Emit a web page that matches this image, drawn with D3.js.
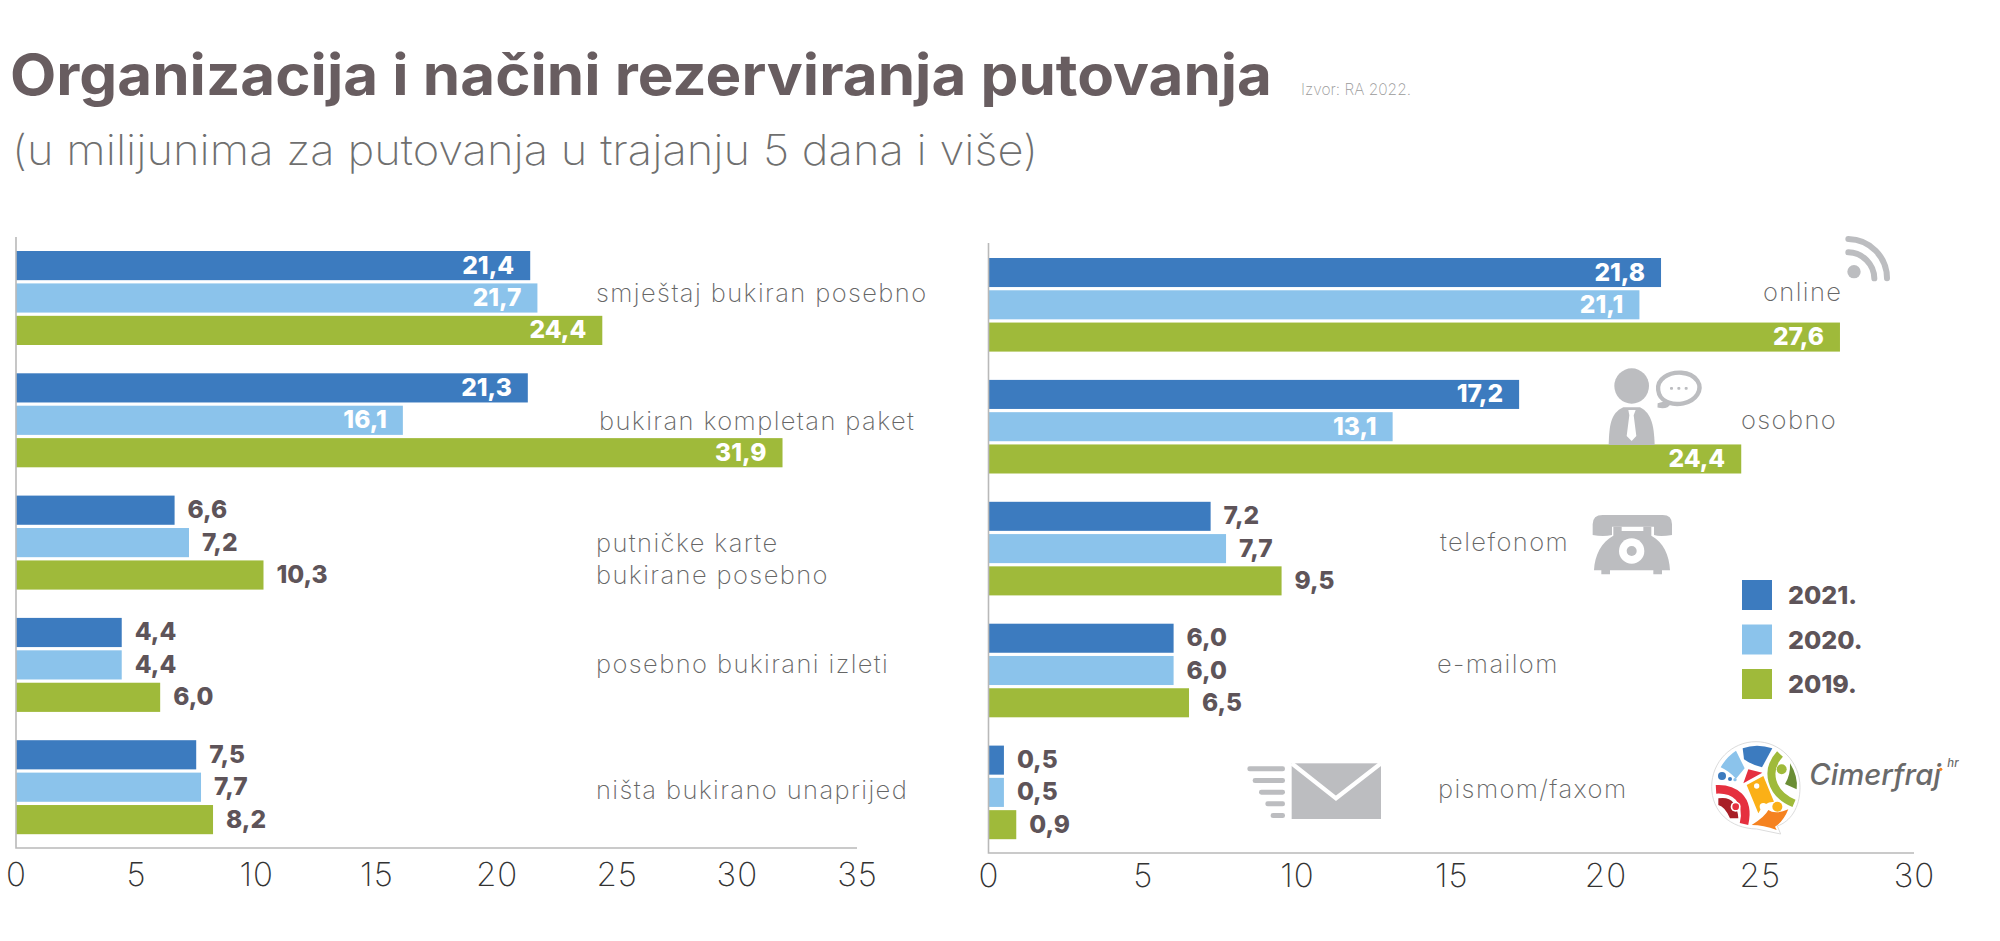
<!DOCTYPE html>
<html>
<head>
<meta charset="utf-8">
<script src="https://cdn.jsdelivr.net/npm/d3@7"></script>
<style>
  html, body { margin: 0; background: #fff; }
  svg { display: block; font-family: Inter, "Noto Sans", sans-serif; }
  .axis path, .axis line { stroke: #b9b9b9; stroke-width: 1.6; }
  .axis text { font-family: Inter, sans-serif; font-size: 33px; font-weight: 200; fill: #333; letter-spacing: 1px; }
  .cat { font-size: 25.5px; font-weight: 200; fill: #666; letter-spacing: 1.4px; }
  .val { font-size: 24.5px; font-weight: 800; }
  .icon { fill: #bcbdc0; }
</style>
</head>
<body>
<svg id="chart" width="2000" height="941"></svg>
<script>
const series = ['2021.', '2020.', '2019.'];
const colors = ['#3c7bbf', '#8bc3eb', '#9fba3a'];

const leftCats = ['smještaj bukiran posebno', 'bukiran kompletan paket', 'putničke karte|bukirane posebno', 'posebno bukirani izleti', 'ništa bukirano unaprijed'];
const left2021 = [21.4, 21.3, 6.6, 4.4, 7.5];
const left2020 = [21.7, 16.1, 7.2, 4.4, 7.7];
const left2019 = [24.4, 31.9, 10.3, 6.0, 8.2];
const leftTicks = [0, 5, 10, 15, 20, 25, 30, 35];

const rightCats = ['online', 'osobno', 'telefonom', 'e-mailom', 'pismom/faxom'];
const right2021 = [21.8, 17.2, 7.2, 6.0, 0.5];
const right2020 = [21.1, 13.1, 7.7, 6.0, 0.5];
const right2019 = [27.6, 24.4, 9.5, 6.5, 0.9];
const rightTicks = [0, 5, 10, 15, 20, 25, 30];

const svg = d3.select('#chart');
const fmt = v => v.toFixed(1).replace('.', ',');

function panel(o) {
  const x = d3.scaleLinear().domain([0, o.max]).range([o.x0, o.x1]);
  const y = d3.scaleBand().domain(o.cats).range([o.top, o.top + 5 * o.step - 28.3]).paddingInner(28.3 / o.step);
  const inner = d3.scaleBand().domain(series).range([0, y.bandwidth()]).paddingInner(0.1);

  const rows = o.cats.flatMap((c, i) => series.map((s, j) => ({ c, s, j, v: o.values[j][i] })));
  const g = svg.append('g');

  g.selectAll('rect').data(rows).join('rect')
    .attr('x', x(0))
    .attr('y', d => y(d.c) + inner(d.s))
    .attr('width', d => x(d.v) - x(0))
    .attr('height', inner.bandwidth())
    .attr('fill', d => colors[d.j]);

  // big bars carry the number inside, in white
  g.selectAll('text.val').data(rows).join('text')
    .attr('class', 'val')
    .attr('x', d => d.v > 12 ? x(d.v) - 16 : x(d.v) + 13)
    .attr('y', d => y(d.c) + inner(d.s) + inner.bandwidth() / 2 + 8)
    .attr('text-anchor', d => d.v > 12 ? 'end' : 'start')
    .attr('fill', d => d.v > 12 ? '#fff' : '#5e5459')
    .text(d => fmt(d.v));

  const axis = g.append('g').attr('class', 'axis')
    .attr('transform', `translate(0,${o.base})`)
    .call(d3.axisBottom(x).tickValues(o.ticks).tickSize(0).tickPadding(o.tickPad).tickFormat(d3.format('d')));
  axis.selectAll('text').attr('dy', '0.71em');
  axis.select('.domain').attr('d', `M${x(0)},${o.axisTop - o.base}V0H${x(o.max)}`);

  const lab = g.selectAll('text.cat').data(o.cats).join('text')
    .attr('class', 'cat')
    .attr('y', (d, i) => o.labelBase[i]);
  lab.selectAll('tspan').data((d, i) => d.split('|').map(t => ({ t, i }))).join('tspan')
    .attr('x', d => o.labelX[d.i])
    .attr('dy', (d, k) => k ? 32 : 0)
    .text(d => d.t);
}

panel({
  cats: leftCats, values: [left2021, left2020, left2019], ticks: leftTicks,
  max: 35, x0: 16, x1: 857, top: 251, step: 122.3, base: 848, axisTop: 237, tickPad: 15,
  labelX: [596, 599, 596, 596, 596], labelBase: [302, 430, 552, 673, 799]
});
panel({
  cats: rightCats, values: [right2021, right2020, right2019], ticks: rightTicks,
  max: 30, x0: 988.5, x1: 1914, top: 258, step: 121.9, base: 853, axisTop: 243, tickPad: 11,
  labelX: [1763, 1741, 1440, 1437, 1438], labelBase: [301, 429, 551, 673, 798]
});

// title block
svg.append('text').attr('x', 10).attr('y', 95).attr('fill', '#685d60')
  .attr('font-size', 56).attr('font-weight', 700)
  .attr('textLength', 1262).attr('lengthAdjust', 'spacingAndGlyphs')
  .text('Organizacija i načini rezerviranja putovanja');
svg.append('text').attr('x', 12).attr('y', 165).attr('fill', '#6f6f6f')
  .attr('font-size', 42).attr('font-weight', 200)
  .attr('textLength', 1026).attr('lengthAdjust', 'spacingAndGlyphs')
  .text('(u milijunima za putovanja u trajanju 5 dana i više)');
svg.append('text').attr('x', 1301).attr('y', 95).attr('fill', '#9a9a9a')
  .attr('font-size', 15.5).attr('font-weight', 200)
  .text('Izvor: RA 2022.');

// legend
const legend = svg.append('g').selectAll('g').data(series).join('g')
  .attr('transform', (d, i) => `translate(1742,${580 + i * 44.5})`);
legend.append('rect').attr('width', 30).attr('height', 30).attr('fill', (d, i) => colors[i]);
legend.append('text').attr('x', 46).attr('y', 24).attr('font-size', 25).attr('font-weight', 800)
  .attr('fill', '#5e5459').text(d => d);

// icons, drawn in 3x crop units
function icon(x, y) {
  return svg.append('g').attr('class', 'icon').attr('transform', `translate(${x},${y}) scale(${1 / 3})`);
}

const wifi = icon(1835, 225);
wifi.append('circle').attr('cx', 57).attr('cy', 140).attr('r', 20);
wifi.append('path').attr('d', 'M40 82A80 80 0 0 1 118 160').attr('fill', 'none').attr('stroke', '#bcbdc0').attr('stroke-width', 18).attr('stroke-linecap', 'round');
wifi.append('path').attr('d', 'M40 42A118 118 0 0 1 156 160').attr('fill', 'none').attr('stroke', '#bcbdc0').attr('stroke-width', 18).attr('stroke-linecap', 'round');

const person = icon(1590, 360);
person.append('ellipse').attr('cx', 125).attr('cy', 78).attr('rx', 52).attr('ry', 53);
person.append('path').attr('d', 'M56 255C58 200 60 160 100 142L150 142C186 160 192 200 194 255Z');
person.append('path').attr('fill', '#fff').attr('d', 'M115 150H137L131 166L139 228L125 243L110 228L118 166Z');
person.append('path').attr('fill', 'none').attr('stroke', '#bcbdc0').attr('stroke-width', 13)
  .attr('d', 'M230 125C200 112 195 70 222 52C250 32 300 32 322 62C340 90 318 122 280 130C262 134 245 131 236 128C232 136 220 140 204 136C216 134 226 130 230 125Z');
person.selectAll('rect').data([240, 262, 284]).join('rect')
  .attr('x', d => d).attr('y', 81).attr('width', 9).attr('height', 8).attr('rx', 3);

const phone = icon(1580, 505);
phone.append('path').attr('d', 'M38 90V58Q38 30 68 30H248Q276 30 276 58V90Q240 96 222 90V65H96V90Q70 96 38 90Z');
phone.append('path').attr('d', 'M100 65H125V78H190V65H214V92C250 112 268 150 270 196H246V208H220V196H90V208H64V196H42C44 150 64 112 100 92Z');
phone.append('circle').attr('cx', 155).attr('cy', 138).attr('r', 38).attr('fill', '#fff');
phone.append('circle').attr('cx', 155).attr('cy', 138).attr('r', 15);

const mail = icon(1240, 755);
mail.append('rect').attr('x', 155).attr('y', 25).attr('width', 268).attr('height', 167);
mail.append('path').attr('d', 'M155 25L288 130L423 25').attr('fill', 'none').attr('stroke', '#fff').attr('stroke-width', 13);
mail.selectAll('rect.ln').data([22, 38, 57, 76, 92]).join('rect').attr('class', 'ln')
  .attr('x', d => d).attr('y', (d, i) => 34 + i * 35).attr('width', d => 135 - d).attr('height', 15).attr('rx', 7);

// Cimerfraj logo
const logo = svg.append('g').attr('transform', `translate(1700,730) scale(${1 / 3})`);
logo.append('path').attr('fill', '#fff').attr('stroke', '#dcdcdc').attr('stroke-width', 3)
  .attr('d', 'M168 35C240 35 300 95 300 172C300 235 270 275 232 288L242 312L170 297C90 295 35 245 35 170C35 95 95 35 168 35Z');
logo.append('path').attr('fill', '#3c7bbf').attr('d', 'M128 55Q170 40 217 55L186 112Q150 102 132 88Z');
logo.append('path').attr('fill', '#8bc3eb').attr('d', 'M108 62L134 115L108 146Q85 122 62 112Q80 80 108 62Z');
logo.append('circle').attr('cx', 66).attr('cy', 138).attr('r', 12).attr('fill', '#3c7bbf');
logo.append('circle').attr('cx', 90).attr('cy', 147).attr('r', 6).attr('fill', '#3c7bbf');
logo.append('circle').attr('cx', 105).attr('cy', 149).attr('r', 5).attr('fill', '#8bc3eb');
logo.append('path').attr('fill', '#e5303f').attr('d', 'M145 118L187 128L130 160Z');
logo.append('path').attr('fill', 'none').attr('stroke', '#9fba3a').attr('stroke-width', 24).attr('d', 'M240 72C195 120 210 190 282 220');
logo.append('circle').attr('cx', 245).attr('cy', 118).attr('r', 15).attr('fill', '#9fba3a');
logo.append('path').attr('fill', '#6b8e35').attr('d', 'M270 100Q295 140 290 178L255 162Q272 135 270 100Z');
logo.append('path').attr('fill', 'none').attr('stroke', '#e5303f').attr('stroke-width', 26).attr('d', 'M48 178C100 175 150 205 132 282');
logo.append('path').attr('fill', '#a81f27').attr('d', 'M55 205Q110 195 115 265L90 265Q75 230 55 225Z');
logo.append('circle').attr('cx', 107).attr('cy', 230).attr('r', 15).attr('fill', '#fff');
logo.append('circle').attr('cx', 107).attr('cy', 230).attr('r', 10).attr('fill', '#e5303f');
logo.append('path').attr('fill', '#fbb017').attr('d', 'M140 165L190 138L222 215Q190 215 175 250Z');
logo.append('circle').attr('cx', 170).attr('cy', 168).attr('r', 8).attr('fill', '#fff');
logo.append('path').attr('fill', '#f58220').attr('d', 'M155 285Q195 260 205 240Q225 255 265 238Q250 275 225 290L230 300Q190 285 155 285Z');
logo.append('circle').attr('cx', 190).attr('cy', 230).attr('r', 11).attr('fill', '#fff');
logo.append('circle').attr('cx', 232).attr('cy', 230).attr('r', 15).attr('fill', '#fbb017');
logo.append('text').attr('x', 328).attr('y', 165).attr('fill', '#6a6a6a')
  .attr('font-size', 88).attr('font-weight', 500).attr('font-style', 'italic').text('Cimerfraj');
logo.append('text').attr('x', 742).attr('y', 112).attr('fill', '#6a6a6a')
  .attr('font-size', 34).attr('font-weight', 500).attr('font-style', 'italic').text('hr');
logo.append('circle').attr('cx', 722).attr('cy', 118).attr('r', 5).attr('fill', '#f58220');
</script>
</body>
</html>
